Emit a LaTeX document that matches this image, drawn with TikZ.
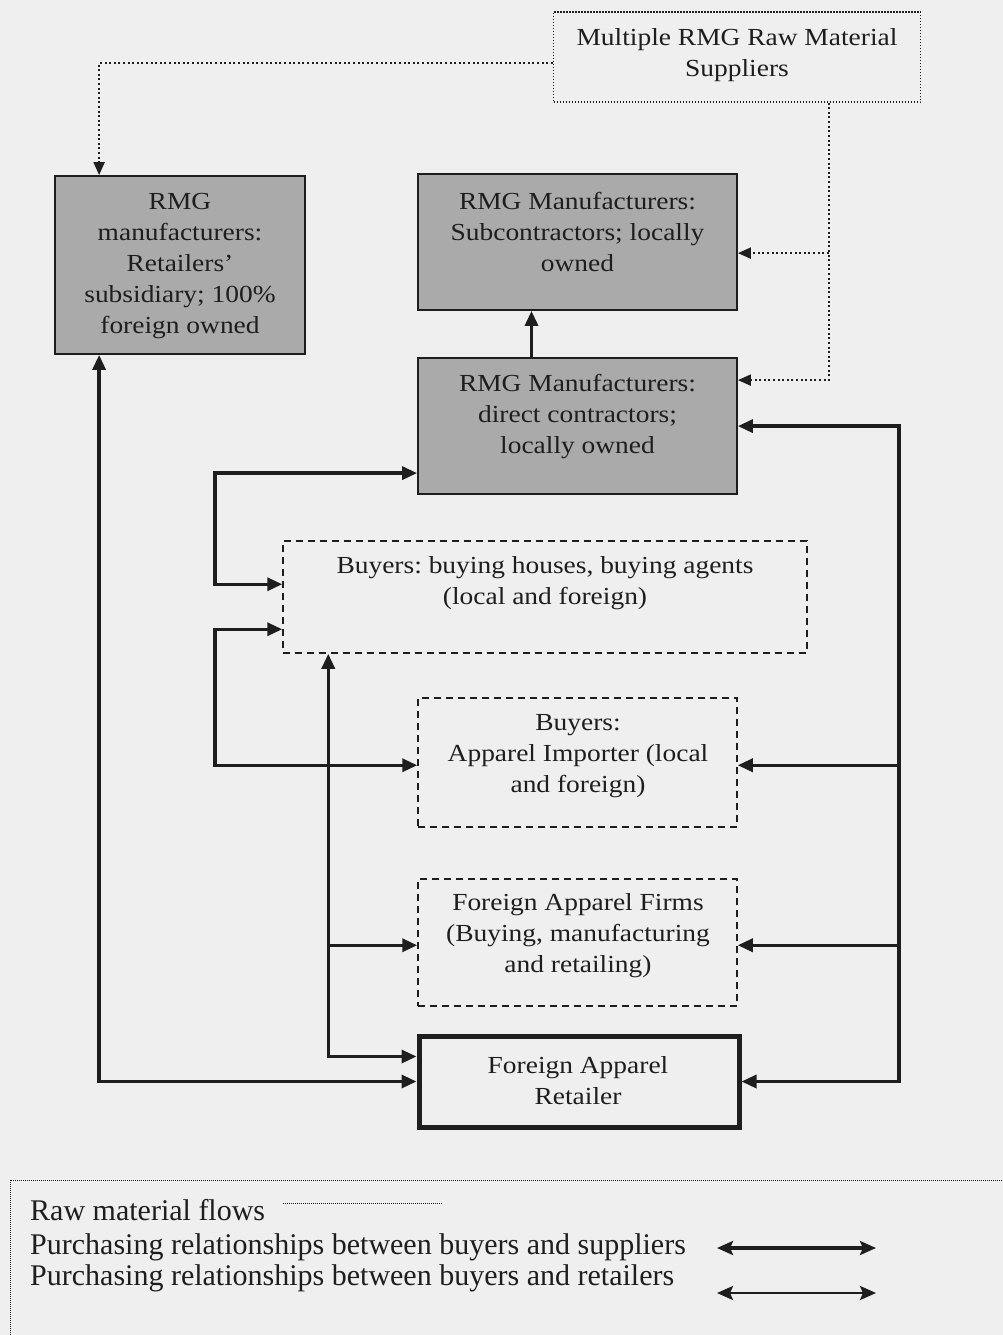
\documentclass[tikz,border=0pt]{standalone}
\usepackage{fontspec}
\setmainfont{Liberation Serif}
\newfontfamily\boxfont{Liberation Serif}[FakeStretch=1.12]
\usetikzlibrary{arrows.meta,calc}
\definecolor{bg}{RGB}{239,239,239}
\definecolor{mfill}{RGB}{170,170,170}
\definecolor{ink}{RGB}{30,30,30}
\frenchspacing
\begin{document}
\begin{tikzpicture}[x=1pt,y=-1pt,
  every node/.style={text=ink, align=center, inner sep=0pt},
  txt/.style={font=\boxfont\fontsize{24.5}{31}\selectfont},
  legtxt/.style={font=\fontsize{30}{33}\selectfont, anchor=base west},
  mfrbox/.style={draw=ink, line width=1.8pt, fill=mfill},
  buyerbox/.style={draw=ink, line width=1.5pt, dash pattern=on 7pt off 5pt},
  retailbox/.style={draw=ink, line width=5pt},
  supbox/.style={draw=ink, line width=1.4pt, dash pattern=on 1.4pt off 1.6pt},
  reltip/.tip={Triangle[length=15pt,width=13pt]},
  legtip/.tip={Stealth[length=16pt,width=14pt,inset=3pt]},
  raw/.style={draw=ink, line width=2pt, dash pattern=on 2pt off 2.6pt,
    -{Triangle[length=13pt,width=11pt]}},
  rel/.style={draw=ink, line width=3.3pt, -{reltip}},
  relboth/.style={draw=ink, line width=3.3pt, {reltip}-{reltip}}
]
% canvas
\fill[bg] (0,0) rectangle (1003,1335);
\useasboundingbox (0,0) rectangle (1003,1335);

% boxes
\node[supbox, minimum width=367pt, minimum height=90pt] (sup) at (737,57) {};
\node[txt] (supT) at (737,55) {Multiple RMG Raw Material\\Suppliers};

\node[mfrbox, minimum width=250pt, minimum height=178pt] (sub) at (180,265) {};
\node[txt] (subT) at (180,266) {RMG\\manufacturers:\\Retailers’\\subsidiary; 100\%\\foreign owned};

\node[mfrbox, minimum width=319pt, minimum height=136pt] (subc) at (577.5,242) {};
\node[txt] (subcT) at (577.5,232) {RMG Manufacturers:\\Subcontractors; locally\\owned};

\node[mfrbox, minimum width=319pt, minimum height=136pt] (dc) at (577.5,426) {};
\node[txt] (dcT) at (577.5,417) {RMG Manufacturers:\\direct contractors;\\locally owned};

\node[buyerbox, minimum width=524pt, minimum height=112pt] (bh) at (545,597) {};
\node[txt] (bhT) at (545,583) {Buyers: buying houses, buying agents\\(local and foreign)};

\node[buyerbox, minimum width=319pt, minimum height=129pt] (imp) at (577.5,762.5) {};
\node[txt] (impT) at (578,756) {Buyers:\\Apparel Importer (local\\and foreign)};

\node[buyerbox, minimum width=319pt, minimum height=127pt] (firm) at (577.5,942.5) {};
\node[txt] (firmT) at (578,936) {Foreign Apparel Firms\\(Buying, manufacturing\\and retailing)};

\node[retailbox, minimum width=320pt, minimum height=91pt] (ret) at (579,1081.5) {};
\node[txt] (retT) at (578,1081) {Foreign Apparel\\Retailer};

% attachment points on the boxes
\coordinate (supW)  at ($(sup.west)+(0,6)$);
\coordinate (supS)  at ($(sup.south west)+(276,0)$);
\coordinate (subN)  at ($(sub.north west)+(45,0)$);
\coordinate (subS)  at ($(sub.south west)+(45,0)$);
\coordinate (subcE) at ($(subc.north east)+(0,80)$);
\coordinate (subcS) at ($(subc.south)+(-46,0)$);
\coordinate (dcN)   at ($(dc.north)+(-46,0)$);
\coordinate (dcE1)  at ($(dc.north east)+(0,23)$);
\coordinate (dcE2)  at ($(dc.north east)+(0,69)$);
\coordinate (dcW)   at ($(dc.north west)+(0,116)$);
\coordinate (bhW1)  at ($(bh.north west)+(0,44)$);
\coordinate (bhW2)  at ($(bh.north west)+(0,89)$);
\coordinate (bhS)   at ($(bh.south west)+(46,0)$);
\coordinate (impW)  at ($(imp.north west)+(0,68)$);
\coordinate (impE)  at ($(imp.north east)+(0,68)$);
\coordinate (firmW) at ($(firm.north west)+(0,67)$);
\coordinate (firmE) at ($(firm.north east)+(0,67)$);
\coordinate (retW1) at ($(ret.north west)+(0,23)$);

% bus lines
\coordinate (lbus) at (215,0);
\coordinate (rbus) at (899,0);

% raw material flows
\draw[raw] (supW) -| (subN);
\draw[raw] (supS) |- (dcE1);
\draw[raw] (supS |- subcE) -- (subcE);

% direct contractors to subcontractors
\draw[rel] (dcN) -- (subcS);

% left brackets
\draw[relboth] (bhW1) -- (bhW1 -| lbus) |- (dcW);
\draw[relboth] (bhW2) -- (bhW2 -| lbus) |- (impW);

% buying houses to retailer and firms
\draw[relboth] (bhS) |- (retW1);
\draw[rel] (bhS |- firmW) -- (firmW);

% retailers' subsidiary to retailer
\draw[relboth] (subS) |- (ret.west);

% right bus
\draw[relboth] (ret.east) -- (ret.east -| rbus) -- (rbus |- dcE2) -- (dcE2);
\draw[rel] (rbus |- impE) -- (impE);
\draw[rel] (rbus |- firmE) -- (firmE);

% legend
\draw[draw=ink, line width=1pt, dash pattern=on 1pt off 1pt] (1010,1180) -- (10,1180) -- (10,1345);
\node[legtxt] (leg1) at (30,1220) {Raw material flows};
\node[legtxt] (leg2) at (30,1254) {Purchasing relationships between buyers and suppliers};
\node[legtxt] (leg3) at (30,1285) {Purchasing relationships between buyers and retailers};
\coordinate (l1a) at (283,1203);
\coordinate (l1b) at (443,1203);
\draw[ink, line width=1pt, dash pattern=on 1pt off 1pt] (l1a) -- (l1b);
\coordinate (l2a) at (717,1248);
\coordinate (l2b) at (876,1248);
\draw[draw=ink, line width=3.4pt, {legtip}-{legtip}] (l2a) -- (l2b);
\coordinate (l3a) at (717,1293);
\coordinate (l3b) at (876,1293);
\draw[draw=ink, line width=2.8pt, {legtip}-{legtip}] (l3a) -- (l3b);
\end{tikzpicture}
\end{document}
